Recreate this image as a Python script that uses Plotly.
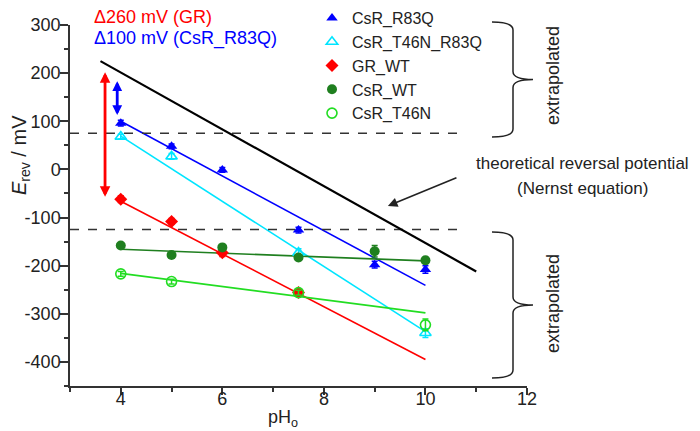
import plotly.graph_objects as go

# ---- data ----
ph_r83q = [4, 5, 6, 7.5, 9, 10]
e_r83q = [96, 48, -1, -126, -198, -208]
err_r83q = [6, 5, 5, 6, 7, 8]

ph_t46n_r83q = [4, 5, 7.5, 10]
e_t46n_r83q = [68, 27, -173, -340]
err_t46n_r83q = [5, 6, 8, 9]

ph_gr = [4, 5, 6, 7.5]
e_gr = [-62, -108, -173, -256]
err_gr = [7, 6, 8, 5]

ph_csr_wt = [4, 5, 6, 7.5, 9, 10]
e_csr_wt = [-158, -178, -162, -183, -170, -189]
err_csr_wt = [4, 4, 5, 5, 12, 6]

ph_t46n = [4, 5, 7.5, 10]
e_t46n = [-217, -233, -256, -323]
err_t46n = [5, 5, 5, 12]

# linear fits (end points)
fit_x = [4, 10]
fit_r83q = [100, -241]
fit_t46n_r83q = [69, -337]
fit_gr = [-66, -395]
fit_csr_wt = [-166, -190]
fit_t46n = [-216, -298]

# theoretical Nernst line
nernst_x = [3.6, 11.0]
nernst_y = [225, -212]

# extrapolation limits (dashed)
dash_x = [3, 10.7]
dash_hi = 75
dash_lo = -125

x_ticks = [4, 6, 8, 10, 12]
y_ticks = [-400, -300, -200, -100, 0, 100, 200, 300]

BLUE = "#0000ff"
CYAN = "#00e5ff"
RED = "#ff0000"
DGREEN = "#1f7f1f"
LGREEN = "#22dd22"

FONT = "Liberation Sans, Arial, Helvetica, sans-serif"

fig = go.Figure()

# fit lines
for yv, col in [(fit_r83q, BLUE), (fit_t46n_r83q, CYAN), (fit_gr, RED),
                (fit_csr_wt, DGREEN), (fit_t46n, LGREEN)]:
    fig.add_trace(go.Scatter(x=fit_x, y=yv, mode="lines",
                             line=dict(color=col, width=1.6),
                             showlegend=False, hoverinfo="skip"))

# dashed lines
for yv in [dash_hi, dash_lo]:
    fig.add_trace(go.Scatter(x=dash_x, y=[yv, yv], mode="lines",
                             line=dict(color="#333333", width=1.5, dash="dash"),
                             showlegend=False, hoverinfo="skip"))

# Nernst line
fig.add_trace(go.Scatter(x=nernst_x, y=nernst_y, mode="lines",
                         line=dict(color="black", width=2.2),
                         showlegend=False, hoverinfo="skip"))


def pts(x, y, err, name, symbol, color, lw=0):
    fig.add_trace(go.Scatter(
        x=x, y=y, mode="markers", name=name,
        marker=dict(symbol=symbol, size=10, color=color,
                    line=dict(color=color, width=lw)),
        error_y=dict(type="data", array=err, color=color, thickness=1.5, width=3),
    ))


pts(ph_r83q, e_r83q, err_r83q, "CsR_R83Q", "triangle-up", BLUE)
pts(ph_t46n_r83q, e_t46n_r83q, err_t46n_r83q, "CsR_T46N_R83Q", "triangle-up-open", CYAN, 1.6)
pts(ph_gr, e_gr, err_gr, "GR_WT", "diamond", RED)
pts(ph_csr_wt, e_csr_wt, err_csr_wt, "CsR_WT", "circle", DGREEN)
pts(ph_t46n, e_t46n, err_t46n, "CsR_T46N", "circle-open", LGREEN, 1.6)

# page has an 8px body margin; plot area sits at page x 70..527, y 25..386
OFF = 8
W, H = 700 - OFF, 431 - OFF
L, T, PW, PH = 70 - OFF, 25 - OFF, 457, 361


def px(x):  # page pixel -> paper
    return (x - OFF - L) / PW


def py(y):
    return (T + PH - (y - OFF)) / PH


def brace(xl, xs, xt, yt, yb):
    ym = (yt + yb) / 2
    r = 8
    p = (f"M {px(xl)},{py(yt)} Q {px(xs)},{py(yt)} {px(xs)},{py(yt + r)} "
         f"L {px(xs)},{py(ym - r)} Q {px(xs)},{py(ym)} {px(xt)},{py(ym)} "
         f"Q {px(xs)},{py(ym)} {px(xs)},{py(ym + r)} "
         f"L {px(xs)},{py(yb - r)} Q {px(xs)},{py(yb)} {px(xl)},{py(yb)}")
    return dict(type="path", path=p, xref="paper", yref="paper",
                line=dict(color="#222222", width=1.5))


shapes = [brace(492, 513, 533, 22, 137), brace(492, 513, 533, 232, 378)]


def txt(text, x, y, size=18, color="#222", angle=0, xanchor="center"):
    return dict(text=text, x=px(x), y=py(y), xref="paper", yref="paper",
                xanchor=xanchor, yanchor="middle", textangle=angle, showarrow=False,
                font=dict(size=size, color=color, family=FONT))


annotations = [
    txt("Δ260 mV (GR)", 92, 17, 18, RED, xanchor="left"),
    txt("Δ100 mV (CsR_R83Q)", 92, 39, 18, BLUE, xanchor="left"),
    txt("extrapolated", 553, 76, angle=-90),
    txt("extrapolated", 553, 304, angle=-90),
    txt("theoretical reversal potential", 582, 163, 17),
    txt("(Nernst equation)", 582, 188, 17),
    txt("<i>E</i><sub>rev</sub> / mV", 20, 155, 20, angle=-90),
    txt("pH<sub>o</sub>", 283, 418, 18),
    # Nernst pointer arrow
    dict(x=9.26, y=-76, ax=10.64, ay=-16, xref="x", yref="y", axref="x", ayref="y",
         text="", showarrow=True, arrowhead=2, arrowsize=1.2, arrowwidth=1.6,
         arrowcolor="#222"),
    # double arrows
    dict(x=3.69, y=202, ax=3.69, ay=-60, xref="x", yref="y", axref="x", ayref="y",
         text="", showarrow=True, arrowhead=2, startarrowhead=2, arrowside="end+start",
         arrowsize=0.75, startarrowsize=0.75, arrowwidth=2.8, arrowcolor=RED,
         standoff=0, startstandoff=0),
    dict(x=3.93, y=183, ax=3.93, ay=110, xref="x", yref="y", axref="x", ayref="y",
         text="", showarrow=True, arrowhead=2, startarrowhead=2, arrowside="end+start",
         arrowsize=0.7, startarrowsize=0.7, arrowwidth=2.8, arrowcolor=BLUE,
         standoff=0, startstandoff=0),
]

fig.update_layout(
    width=W, height=H,
    margin=dict(l=L, r=W - L - PW, t=T, b=H - T - PH, autoexpand=False),
    paper_bgcolor="white", plot_bgcolor="white",
    font=dict(family=FONT, size=18, color="#222"),
    showlegend=True,
    legend=dict(x=px(312), y=py(1), xanchor="left", yanchor="top",
                bgcolor="rgba(0,0,0,0)", font=dict(size=16, color="#222"),
                tracegroupgap=0, itemwidth=30),
    shapes=shapes,
    annotations=annotations,
)

fig.update_xaxes(
    range=[3, 12], showgrid=False, zeroline=False,
    showline=True, linecolor="#333", linewidth=1.5,
    ticks="outside", ticklen=7, tickwidth=1.5, tickcolor="#333",
    tickvals=x_ticks, ticktext=[str(v) for v in x_ticks],
    minor=dict(tickvals=[3, 5, 7, 9, 11], ticks="outside", ticklen=4,
               tickwidth=1.5, tickcolor="#333"),
    ticklabelstandoff=-11,
    tickfont=dict(size=18),
)
fig.update_yaxes(
    range=[-450, 300], showgrid=False, zeroline=False,
    showline=True, linecolor="#333", linewidth=1.5,
    ticks="outside", ticklen=8, tickwidth=1.5, tickcolor="#333",
    tickvals=y_ticks, ticktext=[str(v) for v in y_ticks],
    minor=dict(tickvals=[-450, -350, -250, -150, -50, 50, 150, 250], ticks="outside",
               ticklen=4, tickwidth=1.5, tickcolor="#333"),
    ticklabelstandoff=-4,
    tickfont=dict(size=18),
)

fig.write_html("out.html")
